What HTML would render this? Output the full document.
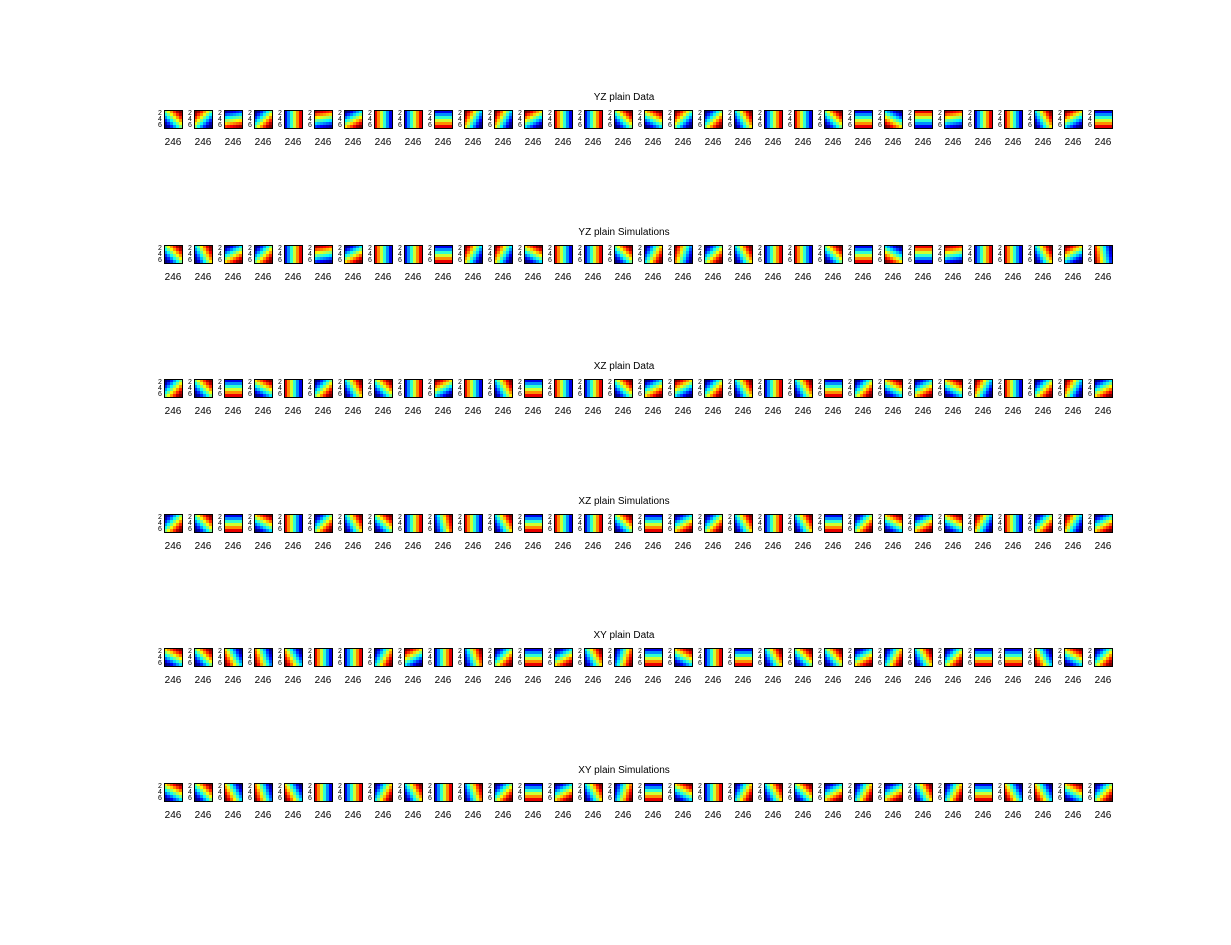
<!DOCTYPE html>
<html><head><meta charset="utf-8">
<style>
body{margin:0;background:#fff;width:1231px;height:945px;overflow:hidden;font-family:"Liberation Sans",sans-serif;}
#fig{position:absolute;left:0;top:0;width:1231px;height:945px;}
.t{position:absolute;font-size:10px;color:#000;white-space:nowrap;transform:translateX(-50%);}
.xl{position:absolute;font-size:10px;color:#000;transform:translateX(-50%);}
.yl{position:absolute;font-size:7px;line-height:6px;color:#000;width:6px;text-align:center;}
svg.p{position:absolute;}
</style></head><body>
<div id="fig"></div>
<script>
const rowTitles=["YZ plain Data","YZ plain Simulations","XZ plain Data","XZ plain Simulations","XY plain Data","XY plain Simulations"];
const xTickLabel="246";
const yTickLabels=["2","4","6"];
// direction (degrees) toward highest value (red) in each panel, per row
const anglesYZData=[45,135,-80,-45,0,100,-60,180,0,-90,150,150,120,180,0,45,60,135,-45,30,0,180,45,-90,-120,90,100,0,180,30,120,-90];
const anglesYZSim=[45,30,-60,-45,0,100,-60,180,0,-90,150,150,60,180,0,45,-30,160,-45,30,0,180,45,-90,-120,90,100,0,180,30,120,-170];
const anglesXZData=[-45,45,-90,60,180,-45,30,45,0,120,180,30,-90,180,0,45,-60,120,-45,30,0,30,-90,-45,60,-60,60,150,180,-45,150,-60];
const anglesXZSim=[-45,45,-90,60,180,-45,30,45,0,15,180,30,-90,180,0,45,-90,-60,-45,30,0,30,-90,-45,60,-60,60,150,180,-45,150,-60];
const anglesXYData=[60,45,-150,-160,-150,180,0,-30,120,0,20,-45,-90,-60,30,-20,-90,60,0,-90,30,45,40,-60,-30,30,-45,-90,-90,-150,60,-45];
const anglesXYSim=[60,45,-150,-160,-150,180,0,-30,30,0,20,-45,-90,-60,30,-20,-90,60,0,-30,30,45,-60,-30,-60,30,-30,-90,-150,-150,60,-45];
const allAngles=[anglesYZData,anglesYZSim,anglesXZData,anglesXZSim,anglesXYData,anglesXYSim];

const N=32, x0=164, dx=30, pw=18, ph=18, row0=110, dRow=134.6, cells=6;
function jet(v){
  const r=Math.min(Math.max(Math.min(4*v-1.5,-4*v+4.5),0),1);
  const g=Math.min(Math.max(Math.min(4*v-0.5,-4*v+3.5),0),1);
  const b=Math.min(Math.max(Math.min(4*v+0.5,-4*v+2.5),0),1);
  return `rgb(${Math.round(r*255)},${Math.round(g*255)},${Math.round(b*255)})`;
}
const fig=document.getElementById('fig');
allAngles.forEach((angs,ri)=>{
  const y=row0+ri*dRow;
  const t=document.createElement('div');
  t.className='t';
  
  
  t.style.left='624px';t.style.top=(y-18)+'px';t.textContent=rowTitles[ri];
  fig.appendChild(t);
  angs.forEach((a,ci)=>{
    const x=x0+ci*dx;
    const svg=document.createElementNS('http://www.w3.org/2000/svg','svg');
    svg.setAttribute('class','p');
    
    
    svg.setAttribute('width',pw+1);svg.setAttribute('height',ph+1);
    svg.style.left=x+'px';svg.style.top=y+'px';
    const rad=a*Math.PI/180, cx=Math.cos(rad), cy=Math.sin(rad);
    let html='';const cs=pw/cells;
    for(let i=0;i<cells;i++)for(let j=0;j<cells;j++){
      const u=(i+0.5)/cells-0.5, w=0.5-(j+0.5)/cells;
      const v=Math.min(1,Math.max(0,0.5+(u*cx+w*cy)*0.95));
      html+=`<rect x="${(i*cs).toFixed(2)}" y="${(j*cs).toFixed(2)}" width="${(cs+0.3).toFixed(2)}" height="${(cs+0.3).toFixed(2)}" fill="${jet(v)}"/>`;
    }
    html+=`<rect x="0.5" y="0.5" width="${pw}" height="${ph}" fill="none" stroke="#000" stroke-width="1"/>`;
    svg.innerHTML=html;
    fig.appendChild(svg);
    const yl=document.createElement('div');
    yl.className='yl';
    
    
    yl.style.left=(x-7)+'px';yl.style.top=(y+1)+'px';
    yl.innerHTML=yTickLabels.join('<br>');
    fig.appendChild(yl);
    const xl=document.createElement('div');
    xl.className='xl';
    
    
    xl.style.left=(x+9)+'px';xl.style.top=(y+27)+'px';xl.textContent=xTickLabel;
    fig.appendChild(xl);
  });
});
</script>
</body></html>
